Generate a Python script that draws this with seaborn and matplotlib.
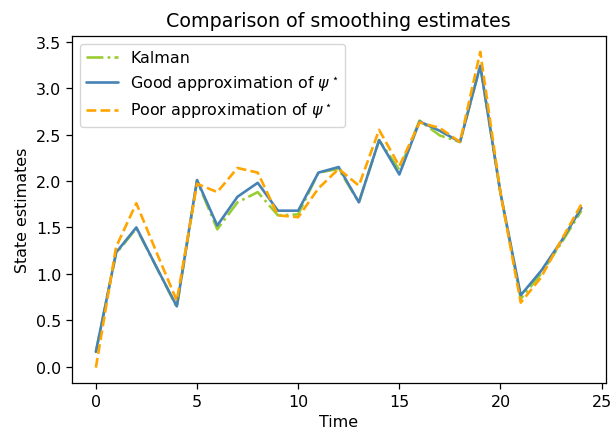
import numpy as np
import pandas as pd
import matplotlib
matplotlib.use("Agg")
import matplotlib.pyplot as plt
import seaborn as sns

# Smoothed state estimates over time
time = list(range(25))
kalman = [0.16, 1.22, 1.49, 1.07, 0.64, 2.00, 1.48, 1.77, 1.88, 1.63,
          1.64, 2.09, 2.13, 1.77, 2.44, 2.12, 2.65, 2.49, 2.42, 3.24,
          1.87, 0.73, 1.00, 1.33, 1.68]
good = [0.16, 1.23, 1.50, 1.07, 0.65, 2.01, 1.52, 1.83, 1.98, 1.68,
        1.68, 2.09, 2.15, 1.77, 2.44, 2.07, 2.64, 2.54, 2.42, 3.24,
        1.87, 0.77, 1.03, 1.35, 1.71]
poor = [-0.01, 1.29, 1.76, 1.23, 0.71, 1.97, 1.88, 2.14, 2.09, 1.63,
        1.61, 1.92, 2.13, 1.95, 2.55, 2.16, 2.63, 2.57, 2.42, 3.39,
        1.87, 0.69, 0.96, 1.36, 1.75]

labels = ["Kalman", r"Good approximation of $\psi^\star$", r"Poor approximation of $\psi^\star$"]

sns.set_style("ticks", {"axes.edgecolor": "black", "xtick.color": "black",
                        "ytick.color": "black", "text.color": "black",
                        "axes.labelcolor": "black"})
plt.rcParams["font.family"] = ["DejaVu Sans"]
plt.rcParams["xtick.major.size"] = 4
plt.rcParams["ytick.major.size"] = 4
plt.rcParams["xtick.major.width"] = 0.9
plt.rcParams["ytick.major.width"] = 0.9
plt.rcParams["axes.linewidth"] = 0.9

fig, ax = plt.subplots(figsize=(6.12, 4.31), dpi=100)
fig.subplots_adjust(left=0.117, right=0.9897, bottom=0.108, top=0.914)

sns.lineplot(x=time, y=kalman, ax=ax, color="yellowgreen", linestyle="-.",
             linewidth=1.9, label=labels[0])
sns.lineplot(x=time, y=good, ax=ax, color="steelblue", linestyle="-",
             linewidth=1.9, label=labels[1])
sns.lineplot(x=time, y=poor, ax=ax, color="orange", linestyle="--",
             linewidth=1.9, label=labels[2])

ax.set_title("Comparison of smoothing estimates", fontsize=13.7, pad=7)
ax.set_xlabel("Time", fontsize=11.4)
ax.set_ylabel("State estimates", fontsize=11.4)
ax.set_xticks([0, 5, 10, 15, 20, 25])
ax.set_yticks(np.arange(0, 3.51, 0.5))
ax.tick_params(labelsize=11.4)
for s in ax.spines.values():
    s.set_visible(True)
    s.set_color("black")
ax.legend(loc="upper left", fontsize=11.4)

fig.savefig("out.png", dpi=100)
